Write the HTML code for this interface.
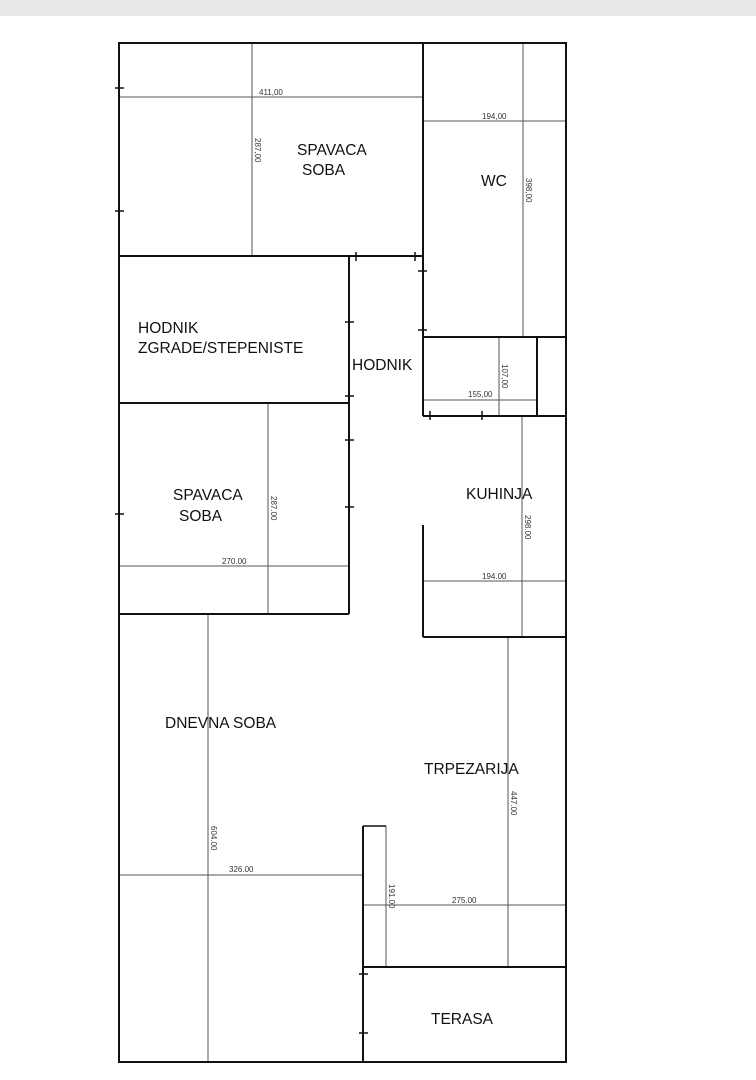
<!DOCTYPE html>
<html><head><meta charset="utf-8"><style>
html,body{margin:0;padding:0;background:#fff;}
svg{display:block;}
</style></head><body>
<svg width="756" height="1080" viewBox="0 0 756 1080" xmlns="http://www.w3.org/2000/svg">
<rect x="0" y="0" width="756" height="16" fill="#e8e8e8"/>
<g stroke="#555" stroke-width="1" fill="none">
<line x1="119" y1="97" x2="423" y2="97"/>
<line x1="252" y1="43" x2="252" y2="256"/>
<line x1="423" y1="121" x2="566" y2="121"/>
<line x1="523" y1="43" x2="523" y2="337"/>
<line x1="499" y1="337" x2="499" y2="416"/>
<line x1="423" y1="400" x2="537" y2="400"/>
<line x1="268" y1="403" x2="268" y2="614"/>
<line x1="119" y1="566" x2="349" y2="566"/>
<line x1="522" y1="416" x2="522" y2="637"/>
<line x1="423" y1="581" x2="566" y2="581"/>
<line x1="208" y1="614" x2="208" y2="1062"/>
<line x1="119" y1="875" x2="363" y2="875"/>
<line x1="508" y1="637" x2="508" y2="967"/>
<line x1="386" y1="826" x2="386" y2="967"/>
<line x1="363" y1="905" x2="566" y2="905"/>
</g>
<g stroke="#111" stroke-width="2" fill="none">
<rect x="119" y="43" width="447" height="1019"/>
<line x1="119" y1="256" x2="423" y2="256"/>
<line x1="423" y1="43" x2="423" y2="416"/>
<line x1="423" y1="337" x2="566" y2="337"/>
<line x1="537" y1="337" x2="537" y2="416"/>
<line x1="423" y1="416" x2="566" y2="416"/>
<line x1="349" y1="256" x2="349" y2="614"/>
<line x1="119" y1="403" x2="349" y2="403"/>
<line x1="119" y1="614" x2="349" y2="614"/>
<line x1="423" y1="525" x2="423" y2="637"/>
<line x1="423" y1="637" x2="566" y2="637"/>
<line x1="363" y1="826" x2="363" y2="1062"/>
<line x1="363" y1="967" x2="566" y2="967"/>
</g>
<line x1="363" y1="826" x2="386" y2="826" stroke="#111" stroke-width="1.5"/>
<g stroke="#111" stroke-width="1.5">
<line x1="115" y1="88" x2="124" y2="88"/>
<line x1="115" y1="211" x2="124" y2="211"/>
<line x1="115" y1="514" x2="124" y2="514"/>
<line x1="356" y1="252" x2="356" y2="261"/>
<line x1="415" y1="252" x2="415" y2="261"/>
<line x1="418" y1="271" x2="427" y2="271"/>
<line x1="418" y1="330" x2="427" y2="330"/>
<line x1="345" y1="322" x2="354" y2="322"/>
<line x1="345" y1="396" x2="354" y2="396"/>
<line x1="345" y1="440" x2="354" y2="440"/>
<line x1="345" y1="507" x2="354" y2="507"/>
<line x1="430" y1="411" x2="430" y2="420"/>
<line x1="482" y1="411" x2="482" y2="420"/>
<line x1="359" y1="974" x2="368" y2="974"/>
<line x1="359" y1="1033" x2="368" y2="1033"/>
</g>
<g font-family="Liberation Sans, Arial, sans-serif" font-size="15.5" fill="#111">
<text x="297" y="155">SPAVACA</text>
<text x="302" y="175">SOBA</text>
<text x="481" y="186">WC</text>
<text x="138" y="333">HODNIK</text>
<text x="138" y="353">ZGRADE/STEPENISTE</text>
<text x="352" y="370">HODNIK</text>
<text x="173" y="500">SPAVACA</text>
<text x="179" y="521">SOBA</text>
<text x="466" y="499">KUHINJA</text>
<text x="165" y="728">DNEVNA SOBA</text>
<text x="424" y="774">TRPEZARIJA</text>
<text x="431" y="1024">TERASA</text>
</g>
<g font-family="Liberation Sans, Arial, sans-serif" font-size="8" fill="#333">
<text x="259" y="95">411,00</text>
<text x="482" y="119">194,00</text>
<text x="468" y="397">155,00</text>
<text x="222" y="564">270.00</text>
<text x="482" y="579">194.00</text>
<text x="229" y="872">326.00</text>
<text x="452" y="903">275.00</text>
<text transform="translate(255,138) rotate(90)">287,00</text>
<text transform="translate(526,178) rotate(90)">398,00</text>
<text transform="translate(502,364) rotate(90)">107,00</text>
<text transform="translate(271,496) rotate(90)">287.00</text>
<text transform="translate(525,515) rotate(90)">298.00</text>
<text transform="translate(211,826) rotate(90)">604.00</text>
<text transform="translate(511,791) rotate(90)">447.00</text>
<text transform="translate(389,884) rotate(90)">191.00</text>
</g>
</svg>
</body></html>
